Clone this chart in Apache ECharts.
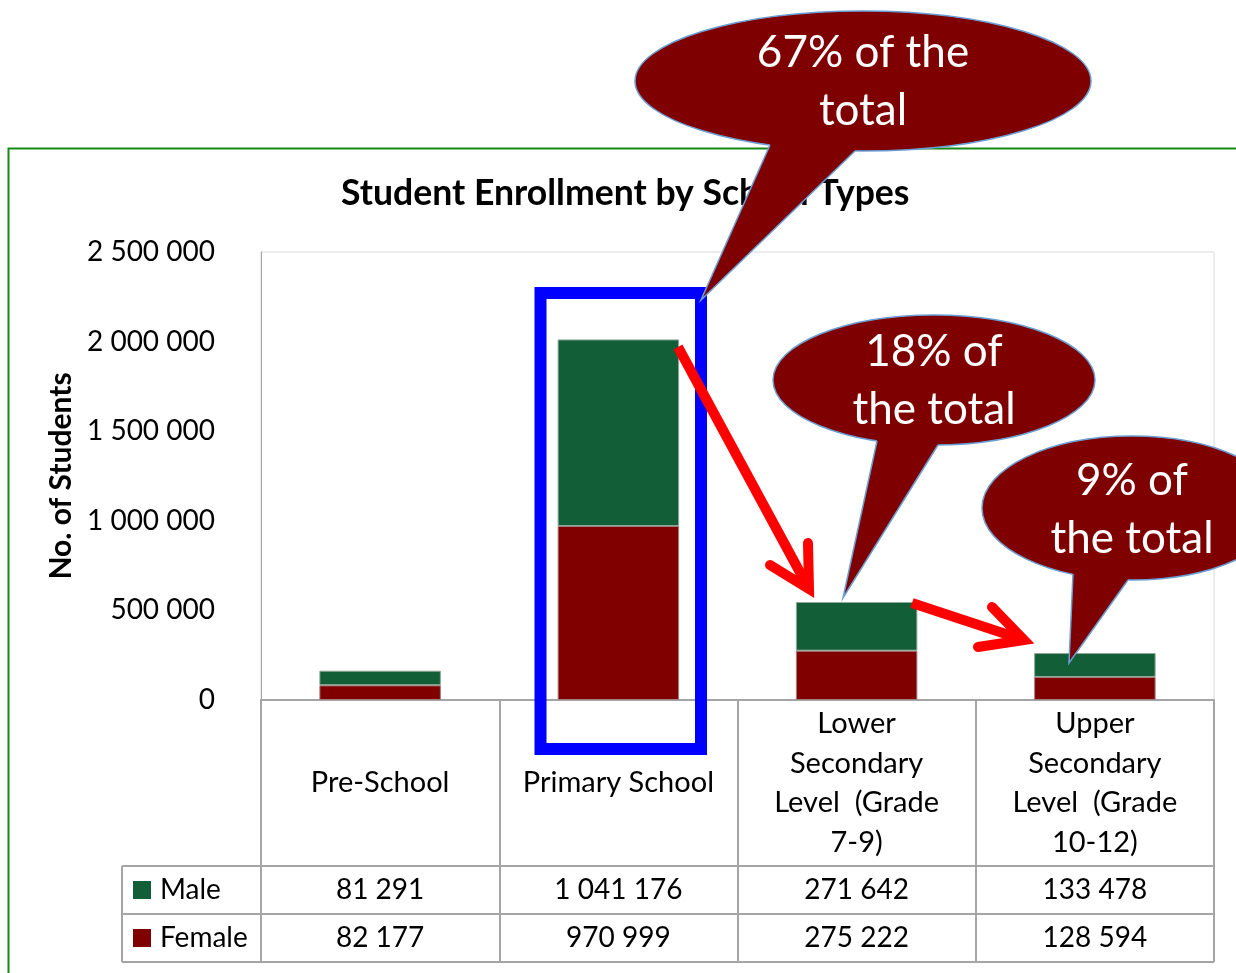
<!DOCTYPE html>
<html>
<head>
<meta charset="utf-8">
<title>Student Enrollment by School Types</title>
<script src="https://cdn.jsdelivr.net/npm/echarts@6/dist/echarts.min.js"></script>
<style>
  html, body { margin: 0; padding: 0; background: #fff; }
  #chart { width: 1236px; height: 973px; }
</style>
</head>
<body>
<div id="chart"></div>
<script>
// data
const categories = ['Pre-School', 'Primary School', 'Lower\nSecondary\nLevel  (Grade\n7-9)', 'Upper\nSecondary\nLevel  (Grade\n10-12)'];
const male = [81291, 1041176, 271642, 133478];
const female = [82177, 970999, 275222, 128594];
const seriesNames = ['Male', 'Female'];
const calloutTexts = ['67% of the\ntotal', '18% of\nthe total', '9% of\nthe total'];

const FONT = 'Lato, "Open Sans", sans-serif';
const GREEN = '#125E37';
const RED = '#800000';
const LINE = '#A5A5A5';

// layout (pixels)
const gridLeft = 261, gridRight = 1214, gridTop = 252, gridBottom = 700;
const tableLeft = 122, rowMale = 866, rowFemale = 914, rowEnd = 962;

function fmt(v) {
  return String(v).replace(/\B(?=(\d{3})+(?!\d))/g, ' ');
}

const chart = echarts.init(document.getElementById('chart'));

const option = {
  animation: false,
  backgroundColor: '#fff',
  title: {
    text: 'Student Enrollment by School Types',
    left: 336,
    top: 171,
    textStyle: { fontFamily: FONT, fontWeight: 'bold', fontSize: 35.6, color: '#000' }
  },
  grid: {
    left: gridLeft,
    right: 1236 - gridRight,
    top: gridTop,
    bottom: 973 - gridBottom,
    show: true,
    borderColor: '#D9D9D9',
    borderWidth: 1
  },
  xAxis: {
    type: 'category',
    data: categories,
    axisLine: { lineStyle: { color: LINE, width: 2 } },
    axisTick: { show: true, length: rowEnd - gridBottom, lineStyle: { color: LINE, width: 2 } },
    axisLabel: {
      interval: 0,
      margin: 83,
      verticalAlign: 'middle',
      fontFamily: FONT,
      fontSize: 29,
      lineHeight: 39.5,
      color: '#000'
    },
    splitLine: { show: false }
  },
  yAxis: {
    type: 'value',
    min: 0,
    max: 2500000,
    interval: 500000,
    name: 'No. of Students',
    nameLocation: 'middle',
    nameRotate: 90,
    nameGap: 184,
    nameTextStyle: { fontFamily: FONT, fontWeight: 'bold', fontSize: 30, color: '#000' },
    axisLine: { show: true, lineStyle: { color: LINE, width: 1 } },
    axisTick: { show: false },
    splitLine: { show: false },
    axisLabel: {
      margin: 46,
      fontFamily: FONT,
      fontSize: 28,
      color: '#000',
      formatter: fmt
    }
  },
  series: [
    {
      name: seriesNames[1],
      type: 'bar',
      stack: 'total',
      barWidth: '51%',
      data: female,
      itemStyle: { color: RED, borderColor: '#A08080', borderWidth: 1 }
    },
    {
      name: seriesNames[0],
      type: 'bar',
      stack: 'total',
      barWidth: '51%',
      data: male,
      itemStyle: { color: GREEN, borderColor: '#8FA89A', borderWidth: 1 }
    }
  ]
};

chart.setOption(option);

// data table below the axis
const centers = categories.map((c, i) => chart.convertToPixel({ xAxisIndex: 0 }, i));
const els = [];
[rowMale, rowFemale, rowEnd].forEach(y => {
  els.push({ type: 'line', shape: { x1: tableLeft, y1: y, x2: gridRight, y2: y }, style: { stroke: LINE, lineWidth: 2 } });
});
els.push({ type: 'line', shape: { x1: tableLeft, y1: rowMale, x2: tableLeft, y2: rowEnd }, style: { stroke: LINE, lineWidth: 2 } });

const rows = [
  { name: seriesNames[0], values: male, color: GREEN, y: (rowMale + rowFemale) / 2 },
  { name: seriesNames[1], values: female, color: RED, y: (rowFemale + rowEnd) / 2 }
];
rows.forEach(r => {
  els.push({ type: 'rect', shape: { x: 133, y: r.y - 9, width: 18, height: 18 }, style: { fill: r.color } });
  els.push({ type: 'text', style: { text: r.name, x: 160, y: r.y, fill: '#000', font: '28px ' + FONT, verticalAlign: 'middle' } });
  r.values.forEach((v, i) => {
    els.push({ type: 'text', style: { text: fmt(v), x: centers[i], y: r.y, fill: '#000', font: '28px ' + FONT, align: 'center', verticalAlign: 'middle' } });
  });
});

// outer green frame
els.push({ type: 'rect', z: 50, shape: { x: 8.5, y: 148.5, width: 1400, height: 1000 }, style: { fill: 'none', stroke: '#168A16', lineWidth: 2 } });

// blue highlight box
els.push({ type: 'rect', z: 60, shape: { x: 540.5, y: 293, width: 160.5, height: 456 }, style: { fill: 'none', stroke: '#0000FF', lineWidth: 12 } });

// red arrows
function arrow(from, tip, armA, armB) {
  els.push({ type: 'polyline', z: 70, shape: { points: [from, tip] }, style: { stroke: '#FF0000', lineWidth: 10, lineCap: 'butt' } });
  els.push({ type: 'polyline', z: 70, shape: { points: [armA, tip, armB] }, style: { stroke: '#FF0000', lineWidth: 10, lineCap: 'round', lineJoin: 'miter' } });
}
arrow([678, 347], [809, 589], [770, 565], [808, 543]);
arrow([912, 603], [1024, 640], [992, 607], [978, 647]);

// oval callouts
function callout(text, cx, cy, rx, ry, baseA, tip, baseB, textY) {
  const fill = '#7F0000', edge = '#6A9FD4';
  els.push({ type: 'ellipse', z: 80, shape: { cx: cx, cy: cy, rx: rx, ry: ry }, style: { fill: fill, stroke: edge, lineWidth: 1.5 } });
  els.push({ type: 'polygon', z: 81, shape: { points: [baseA, tip, baseB, [baseB[0], baseB[1] - 12], [baseA[0], baseA[1] - 12]] }, style: { fill: fill } });
  els.push({ type: 'polyline', z: 82, shape: { points: [baseA, tip, baseB] }, style: { stroke: edge, lineWidth: 1.5 } });
  els.push({ type: 'text', z: 83, style: { text: text, x: cx, y: textY, fill: '#fff', font: '44px ' + FONT, align: 'center', verticalAlign: 'middle', lineHeight: 58 } });
}
callout(calloutTexts[0], 863, 81, 228, 70, [770, 145], [701, 300], [855, 151], 82);
callout(calloutTexts[1], 934, 380, 161, 65, [877, 441], [843, 598], [938, 445], 381);
callout(calloutTexts[2], 1132, 508, 150, 72, [1073, 574], [1069, 663], [1128, 580], 510);

chart.setOption({ graphic: { elements: els } });
</script>
</body>
</html>
